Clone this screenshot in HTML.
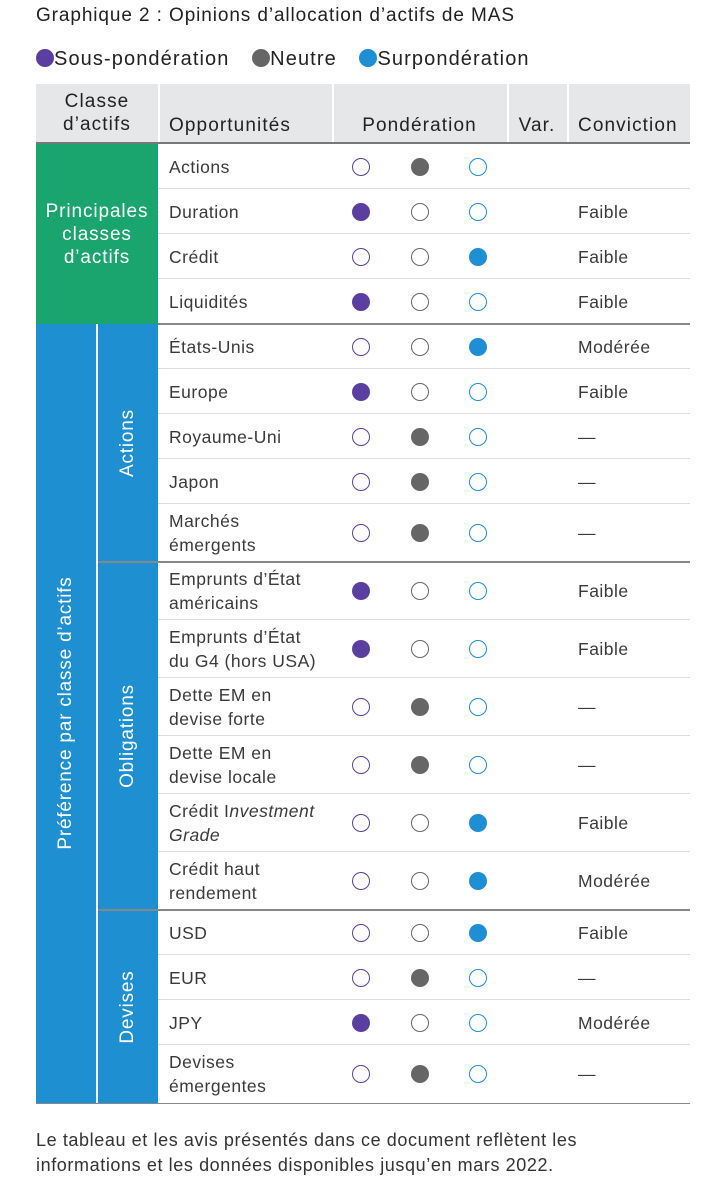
<!DOCTYPE html>
<html><head><meta charset="utf-8">
<style>
body{margin:0;width:726px;height:1200px;background:#fff;font-family:"Liberation Sans",sans-serif;color:#333;position:relative;overflow:hidden}
.a{position:absolute}
.t{font-size:17.5px;line-height:24px;color:#3a3a3a;letter-spacing:0.5px;white-space:nowrap}
</style></head><body>
<div class="a" style="left:36px;top:5px;font-size:19px;letter-spacing:0.9px;color:#222;white-space:nowrap">Graphique 2 : Opinions d’allocation d’actifs de MAS</div>
<div class="a" style="left:36px;top:48px;font-size:20px;letter-spacing:1.1px;color:#222;white-space:nowrap">
<span><span style="display:inline-block;width:18px;height:18px;border-radius:50%;background:#5b3fa0;vertical-align:-2px"></span>Sous-pondération</span>
<span style="margin-left:16px"><span style="display:inline-block;width:18px;height:18px;border-radius:50%;background:#666;vertical-align:-2px"></span>Neutre</span>
<span style="margin-left:16px"><span style="display:inline-block;width:18px;height:18px;border-radius:50%;background:#1e8fd5;vertical-align:-2px"></span>Surpondération</span>
</div>
<div id="tbl" class="a" style="left:0;top:0;width:726px;height:1200px"></div>
<div class="a" style="left:36px;top:1128px;font-size:18px;letter-spacing:0.6px;line-height:25px;color:#333;white-space:nowrap">Le tableau et les avis présentés dans ce document reflètent les<br>informations et les données disponibles jusqu’en mars 2022.</div>
<script>
const labels=["Actions","Duration","Crédit","Liquidités","États-Unis","Europe","Royaume-Uni","Japon","Marchés<br>émergents","Emprunts d’État<br>américains","Emprunts d’État<br>du G4 (hors USA)","Dette EM en<br>devise forte","Dette EM en<br>devise locale","Crédit I<i>nvestment<br>Grade</i>","Crédit haut<br>rendement","USD","EUR","JPY","Devises<br>émergentes"];
const weights=[1,0,2,0,2,0,1,1,1,0,0,1,1,2,2,2,1,0,1];
const conviction=["","Faible","Faible","Faible","Modérée","Faible","—","—","—","Faible","Faible","—","—","Faible","Modérée","Faible","—","Modérée","—"];
const heights=[45,45,45,45,45,45,45,45,58,58,58,58,58,58,58,45,45,45,58];
const T=document.getElementById('tbl');
function add(css,html,name){const d=document.createElement('div');d.className='a';d.style.cssText=css;if(html)d.innerHTML=html;


T.appendChild(d);return d;}
const H='font-size:19px;letter-spacing:1.1px;color:#222;white-space:nowrap;';
add('left:36px;top:84px;width:654px;height:59px;background:#e6e7e8','', 'table-header');
[158,332,507,567].forEach(x=>add(`left:${x}px;top:84px;width:2px;height:59px;background:#fff`,'','header-divider'));
add('left:36px;top:90px;width:122px;text-align:center;line-height:23px;'+H,'Classe<br>d’actifs','header-asset-class');
add('left:169px;top:115px;'+H,'Opportunités','header-opportunities');
add('left:332px;top:115px;width:175px;text-align:center;'+H,'Pondération','header-weighting');
add('left:507px;top:115px;width:60px;text-align:center;'+H,'Var.','header-change');
add('left:578px;top:115px;'+H,'Conviction','header-conviction');
add('left:36px;top:142px;width:654px;height:2px;background:#777','','header-rule');
add('left:36px;top:144px;width:122px;height:180px;background:#1ba56e','','group-main');
add('left:36px;top:200px;width:122px;text-align:center;font-size:19px;letter-spacing:0.9px;line-height:23px;color:#fff','Principales<br>classes<br>d’actifs','group-main-label');
add('left:36px;top:324px;width:122px;height:779px;background:#1e8fd0','','group-preference');
add('left:96px;top:324px;width:2px;height:779px;background:#fff','','group-divider');
add('left:66px;top:713px;width:0;height:0','<div style="position:absolute;transform:translate(-50%,-50%) rotate(-90deg);white-space:nowrap;font-size:19px;letter-spacing:0.8px;color:#fff">Préférence par classe d’actifs</div>','group-preference-label');
const subs=[["Actions",324,562],["Obligations",562,910],["Devises",910,1103]];
subs.forEach((s,i)=>{
 if(i>0)add(`left:98px;top:${s[1]-1}px;width:60px;height:2px;background:#fff`,'','subgroup-divider');
 add(`left:128px;top:${(s[1]+s[2])/2}px;width:0;height:0`,`<div style="position:absolute;transform:translate(-50%,-50%) rotate(-90deg);white-space:nowrap;font-size:19px;letter-spacing:0.8px;color:#fff">${s[0]}</div>`,'subgroup-label-'+s[0].toLowerCase());
});
const cols=["#5b3fa0","#666","#1e8fd5"];
const cx=[361,420,478];
const major=[3,8,14];
let y=144;
labels.forEach((l,i)=>{
 const h=heights[i],mid=y+h/2;
 const two=l.includes('<br>');
 add(`left:169px;top:${mid-(two?24:12)}px`,`<div class="t">${l}</div>`,'row-label');
 for(let k=0;k<3;k++){
  const filled=weights[i]===k;
  add(`left:${cx[k]-9}px;top:${mid-9}px;width:18px;height:18px;border-radius:50%;box-sizing:border-box;${filled?'background:'+cols[k]:'border:1.5px solid '+cols[k]}`,'','weight-dot');
 }
 if(conviction[i])add(`left:578px;top:${mid-12}px`,`<div class="t">${conviction[i]}</div>`,'conviction-value');
 y+=h;
 if(i<labels.length-1){
  const isMajor=major.includes(i);
  const x0=isMajor?(i===3?158:98):158;
  add(`left:${x0}px;top:${y-1}px;width:${690-x0}px;height:${isMajor?1.5:1}px;background:${isMajor?'#888':'#ddd'}`,'','row-rule');
 }
});
add(`left:36px;top:${y}px;width:654px;height:1px;background:#888`,'','table-bottom-rule');
</script>
</body></html>
